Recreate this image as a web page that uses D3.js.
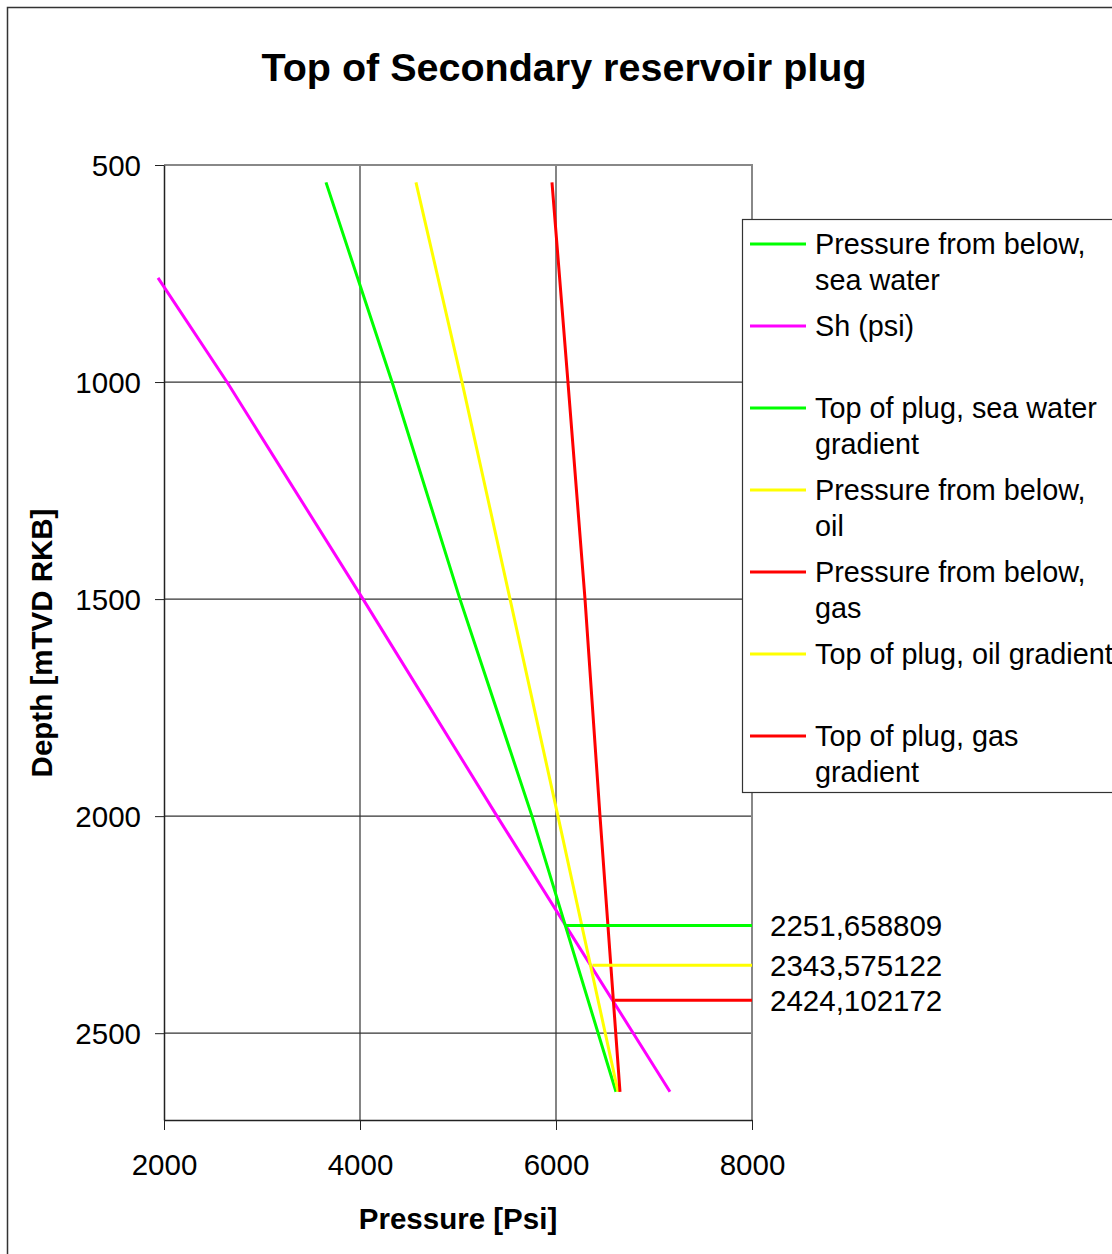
<!DOCTYPE html>
<html>
<head>
<meta charset="utf-8">
<script src="https://cdn.jsdelivr.net/npm/d3@7"></script>
<style>
  body { margin: 0; background: #fff; }
  text { font-family: "Liberation Sans", Arial, sans-serif; fill: #000; }
</style>
</head>
<body>
<svg id="chart"></svg>
<script>
// values (depth in mTVD RKB, pressure in psi)
const depthBelow = [540, 1000, 1500, 2000, 2635];
const seaWater = [3653, 4327, 5020, 5755, 6612];
const oil = [4571, 5041, 5531, 6020, 6633];
const gas = [5959, 6122, 6296, 6449, 6653];

const shDepth = [760, 1000, 1500, 2000, 2635];
const sh = [1939, 2643, 4031, 5398, 7163];

// top of plug, horizontal lines: depth, start pressure -> 8000
const plugDepths = [2251.658809, 2343.575122, 2424.102172];
const plugStart = [6082, 6372, 6600];
const plugLabels = ['2251,658809', '2343,575122', '2424,102172'];

const xTicks = [2000, 4000, 6000, 8000];
const yTicks = [500, 1000, 1500, 2000, 2500];

const legendNames = [
  ['Pressure from below,', 'sea water'],
  ['Sh (psi)'],
  ['Top of plug, sea water', 'gradient'],
  ['Pressure from below,', 'oil'],
  ['Pressure from below,', 'gas'],
  ['Top of plug, oil gradient'],
  ['Top of plug, gas', 'gradient']
];
const legendColors = ['#00ff00', '#ff00ff', '#00ff00', '#ffff00', '#ff0000', '#ffff00', '#ff0000'];

const W = 1112, H = 1254;
const margin = { top: 165, left: 164 };
const width = 588;
const height = 955;
const fs = '29.5px';

const svg = d3.select('#chart')
  .attr('width', W)
  .attr('height', H);

// outer frame
svg.append('rect')
  .attr('x', 7.5).attr('y', 7.5)
  .attr('width', 1300).attr('height', 1300)
  .attr('fill', '#fff')
  .attr('stroke', '#333')
  .attr('stroke-width', 1.5);

svg.append('text')
  .attr('x', 564).attr('y', 81)
  .attr('text-anchor', 'middle')
  .style('font-size', '39.5px')
  .style('font-weight', 'bold')
  .text('Top of Secondary reservoir plug');

const x = d3.scaleLinear().domain([2000, 8000]).range([0, width]);
const y = d3.scaleLinear().domain([500, 2700]).range([0, height]);

const chart = svg.append('g')
  .attr('transform', `translate(${margin.left}, ${margin.top})`);

// grid
chart.selectAll('.hgrid')
  .data(yTicks.slice(1))
  .enter().append('line')
  .attr('x1', 0).attr('x2', width)
  .attr('y1', d => y(d)).attr('y2', d => y(d))
  .attr('stroke', '#333').attr('stroke-width', 1.2);

chart.selectAll('.vgrid')
  .data(xTicks.slice(1, 3))
  .enter().append('line')
  .attr('x1', d => x(d)).attr('x2', d => x(d))
  .attr('y1', 0).attr('y2', height)
  .attr('stroke', '#333').attr('stroke-width', 1.2);

// top and right border (grey)
chart.append('path')
  .attr('d', `M0,0H${width}V${height}`)
  .attr('fill', 'none')
  .attr('stroke', '#888')
  .attr('stroke-width', 2);

// axes
const xAxis = chart.append('g')
  .attr('transform', `translate(0, ${height})`)
  .call(d3.axisBottom(x).tickValues(xTicks).tickSize(10).tickSizeOuter(0).tickPadding(24).tickFormat(d3.format('d')));

const yAxis = chart.append('g')
  .call(d3.axisLeft(y).tickValues(yTicks).tickSize(9).tickSizeOuter(0).tickPadding(14).tickFormat(d3.format('d')));

[xAxis, yAxis].forEach(a => {
  a.select('.domain').attr('stroke', '#222').attr('stroke-width', 1.5);
  a.selectAll('.tick line').attr('stroke', '#222');
  a.selectAll('.tick text')
    .style('font-size', fs)
    .style('font-family', '"Liberation Sans", Arial, sans-serif')
    .attr('fill', '#000');
});
yAxis.selectAll('.tick text').attr('dy', '0.35em');
xAxis.selectAll('.tick text').attr('dy', '0.71em');

// axis titles
chart.append('text')
  .attr('x', width / 2).attr('y', height + 109)
  .attr('text-anchor', 'middle')
  .style('font-size', fs)
  .style('font-weight', 'bold')
  .text('Pressure [Psi]');

chart.append('text')
  .attr('transform', 'rotate(-90)')
  .attr('x', -(643 - margin.top)).attr('y', -112)
  .attr('text-anchor', 'middle')
  .style('font-size', fs)
  .style('font-weight', 'bold')
  .text('Depth [mTVD RKB]');

// series
const line = d3.line().x(d => x(d[0])).y(d => y(d[1]));

const series = [
  { color: '#ff00ff', pts: sh.map((p, i) => [p, shDepth[i]]) },
  { color: '#00ff00', pts: seaWater.map((p, i) => [p, depthBelow[i]]) },
  { color: '#ffff00', pts: oil.map((p, i) => [p, depthBelow[i]]) },
  { color: '#ff0000', pts: gas.map((p, i) => [p, depthBelow[i]]) }
];
const plugColors = ['#00ff00', '#ffff00', '#ff0000'];
plugDepths.forEach((d, i) => {
  series.push({ color: plugColors[i], pts: [[plugStart[i], d], [8000, d]] });
});

chart.selectAll('.series')
  .data(series)
  .enter().append('path')
  .attr('d', d => line(d.pts))
  .attr('fill', 'none')
  .attr('stroke', d => d.color)
  .attr('stroke-width', 3);

// data labels
chart.selectAll('.plabel')
  .data(plugDepths)
  .enter().append('text')
  .attr('x', width + 18)
  .attr('y', d => y(d))
  .attr('dy', '0.35em')
  .style('font-size', fs)
  .text((d, i) => plugLabels[i]);

// legend
const legend = svg.append('g').attr('transform', 'translate(742, 219)');
legend.append('rect')
  .attr('x', 0.5).attr('y', 0.5)
  .attr('width', 500).attr('height', 573)
  .attr('fill', '#fff')
  .attr('stroke', '#333')
  .attr('stroke-width', 1.2);

const item = legend.selectAll('.item')
  .data(legendNames)
  .enter().append('g')
  .attr('transform', (d, i) => `translate(0, ${25 + i * 82})`);

item.append('line')
  .attr('x1', 8).attr('x2', 64)
  .attr('stroke', (d, i) => legendColors[i])
  .attr('stroke-width', 3);

item.append('text')
  .attr('x', 73)
  .style('font-size', '28.8px')
  .selectAll('tspan')
  .data(d => d)
  .enter().append('tspan')
  .attr('x', 73)
  .attr('y', (d, i) => i * 36)
  .attr('dy', '0.35em')
  .text(d => d);
</script>
</body>
</html>
